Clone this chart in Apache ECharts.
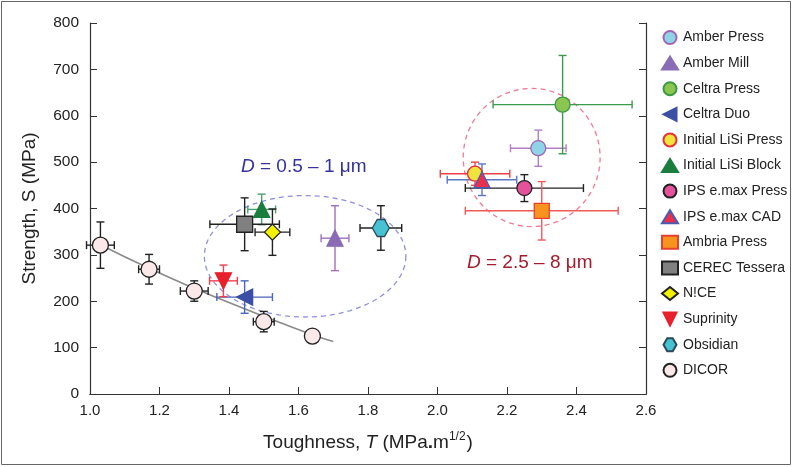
<!DOCTYPE html>
<html>
<head>
    <meta charset="utf-8">
</head>
<body style="margin:0">

<div id="main" style="width: 794px;height:467px;"></div>
<script src="https://cdn.jsdelivr.net/npm/echarts@6/dist/echarts.min.js"></script>
<script type="text/javascript">
    // each row: [toughness, strength, toughness error, strength error]
    var amberPress = [[2.29, 530, 0.08, 39]];
    var amberMill = [[1.705, 336, 0.04, 70]];
    var celtraPress = [[2.36, 624, 0.20, 106]];
    var celtraDuo = [[1.445, 209, 0.08, 35]];
    var lisiPress = [[2.108, 475, 0.10, 25]];
    var lisiBlock = [[1.494, 398, 0.04, 33]];
    var emaxPress = [[2.25, 444, 0.17, 29]];
    var emaxCad = [[2.128, 462, 0.10, 34]];
    var ambriaPress = [[2.30, 395, 0.22, 63]];
    var cerecTessera = [[1.445, 366, 0.10, 57]];
    var nice = [[1.525, 349, 0.05, 50]];
    var suprinity = [[1.384, 244, 0.04, 34]];
    var obsidian = [[1.837, 358, 0.06, 48]];
    var dicor = [[1.03, 321, 0.04, 50], [1.17, 269, 0.03, 32], [1.30, 222, 0.04, 22], [1.50, 156, 0.03, 22], [1.64, 125, 0.01, 14]];
    // trend line through the DICOR points
    var dicorFit = [[1.03, 322], [1.17, 271], [1.30, 228], [1.45, 182], [1.55, 153], [1.64, 128], [1.70, 113]];
    // dashed grain size ellipses: [centre T, centre S, half width, half height]
    var fineEllipse = [[1.619, 297, 0.29, 131]];
    var coarseEllipse = [[2.271, 510, 0.197, 149]];

    var xTicks = [1.0, 1.2, 1.4, 1.6, 1.8, 2.0, 2.2, 2.4, 2.6];
    var yTicks = [0, 100, 200, 300, 400, 500, 600, 700, 800];

    var font = 'Liberation Sans, Arial, sans-serif';
    var hexagon = 'path://M0,5 L2.9,0 L7.1,0 L10,5 L7.1,10 L2.9,10 Z';
    var leftTri = 'path://M0,5 L10,0 L10,10 Z';
    var downTri = 'path://M0,0 L10,0 L5,10 Z';

    var materials = [
        {name: 'Amber Press', data: amberPress, symbol: 'circle', rot: 0, size: 15, fill: '#8fd4e6', edge: '#a064b4', bar: '#b47ec4'},
        {name: 'Amber Mill', data: amberMill, symbol: 'triangle', rot: 0, size: 16, fill: '#8a6cb6', edge: '#8a6cb6', bar: '#a070b8'},
        {name: 'Celtra Press', data: celtraPress, symbol: 'circle', rot: 0, size: 15, fill: '#8cc652', edge: '#3c9a40', bar: '#3a9a4e'},
        {name: 'Celtra Duo', data: celtraDuo, symbol: 'triangle', rot: 90, icon: leftTri, size: 16, fill: '#3c4fa6', edge: '#3c4fa6', bar: '#4a66b8'},
        {name: 'Initial LiSi Press', data: lisiPress, symbol: 'circle', rot: 0, size: 15, fill: '#f2e23c', edge: '#e8303a', bar: '#ec4048'},
        {name: 'Initial LiSi Block', data: lisiBlock, symbol: 'triangle', rot: 0, size: 16, fill: '#1a7e3e', edge: '#1a7e3e', bar: '#4aa070'},
        {name: 'IPS e.max Press', data: emaxPress, symbol: 'circle', rot: 0, size: 15, fill: '#e3529a', edge: '#222222', bar: '#222222'},
        {name: 'IPS e.max CAD', data: emaxCad, symbol: 'triangle', rot: 0, size: 16, fill: '#e8304e', edge: '#4a5cb0', bar: '#5a78c0'},
        {name: 'Ambria Press', data: ambriaPress, symbol: 'rect', rot: 0, size: 15, fill: '#f7941d', edge: '#e84030', bar: '#f05a5a'},
        {name: 'CEREC Tessera', data: cerecTessera, symbol: 'rect', rot: 0, size: 16, fill: '#808080', edge: '#222222', bar: '#222222'},
        {name: 'N!CE', data: nice, symbol: 'diamond', rot: 0, size: 16, fill: '#f2f200', edge: '#222222', bar: '#222222'},
        {name: 'Suprinity', data: suprinity, symbol: 'triangle', rot: 180, icon: downTri, size: 16, fill: '#e8202c', edge: '#e8202c', bar: '#f04050'},
        {name: 'Obsidian', data: obsidian, symbol: hexagon, rot: 0, size: 17, fill: '#46c2d2', edge: '#2a4a5a', bar: '#222222'},
        {name: 'DICOR', data: dicor, symbol: 'circle', rot: 0, size: 16, fill: '#fbe8e8', edge: '#222222', bar: '#222222'}
    ];

    function errorBars(params, api) {
        var x = api.value(0), y = api.value(1), dx = api.value(2), dy = api.value(3);
        var l = api.coord([x - dx, y]), r = api.coord([x + dx, y]);
        var t = api.coord([x, y + dy]), b = api.coord([x, y - dy]);
        var cap = 4;
        var st = {stroke: api.visual('color'), lineWidth: 1.4};
        return {
            type: 'group',
            children: [
                {type: 'line', shape: {x1: l[0], y1: l[1], x2: r[0], y2: r[1]}, style: st},
                {type: 'line', shape: {x1: l[0], y1: l[1] - cap, x2: l[0], y2: l[1] + cap}, style: st},
                {type: 'line', shape: {x1: r[0], y1: r[1] - cap, x2: r[0], y2: r[1] + cap}, style: st},
                {type: 'line', shape: {x1: t[0], y1: t[1], x2: b[0], y2: b[1]}, style: st},
                {type: 'line', shape: {x1: t[0] - cap, y1: t[1], x2: t[0] + cap, y2: t[1]}, style: st},
                {type: 'line', shape: {x1: b[0] - cap, y1: b[1], x2: b[0] + cap, y2: b[1]}, style: st}
            ]
        };
    }

    function ellipse(params, api) {
        var c = api.coord([api.value(0), api.value(1)]);
        var sz = api.size([api.value(2), api.value(3)]);
        var pts = [];
        for (var i = 0; i <= 96; i++) {
            var a = i / 96 * Math.PI * 2;
            pts.push([c[0] + sz[0] * Math.cos(a), c[1] + sz[1] * Math.sin(a)]);
        }
        return {
            type: 'polyline',
            shape: {points: pts},
            style: {stroke: api.visual('color'), fill: 'none', lineWidth: 1.3, lineDash: [5, 4]}
        };
    }

    var series = [];
    series.push({
        name: 'fine', type: 'custom', renderItem: ellipse, data: fineEllipse,
        itemStyle: {color: '#8f90dc'}, silent: true, z: 1
    });
    series.push({
        name: 'coarse', type: 'custom', renderItem: ellipse, data: coarseEllipse,
        itemStyle: {color: '#f07a92'}, silent: true, z: 1
    });
    series.push({
        name: 'DICOR fit', type: 'line', data: dicorFit, smooth: true, showSymbol: false,
        lineStyle: {color: '#8a8a8a', width: 1.6}, silent: true, z: 2
    });
    materials.forEach(function (m) {
        series.push({
            name: m.name + ' error', type: 'custom', renderItem: errorBars, data: m.data,
            itemStyle: {color: m.bar}, silent: true, z: 3
        });
    });
    materials.forEach(function (m) {
        series.push({
            name: m.name, type: 'scatter', data: m.data.map(function (d) { return [d[0], d[1]]; }),
            symbol: m.symbol, symbolSize: m.size, symbolRotate: m.rot,
            itemStyle: {color: m.fill, borderColor: m.edge, borderWidth: 1.3, opacity: 1}, z: 5
        });
    });

    var option = {
        animation: false,
        textStyle: {fontFamily: font},
        grid: {left: 90, right: 148, top: 23, bottom: 73},
        legend: {
            orient: 'vertical', left: 656, top: 25, itemGap: 10.6,
            itemWidth: 16, itemHeight: 13,
            data: materials.map(function (m) {
                return m.icon ? {name: m.name, icon: m.icon} : {name: m.name};
            }),
            textStyle: {fontFamily: font, fontSize: 14, color: '#222'}
        },
        xAxis: [{
            type: 'value', min: xTicks[0], max: xTicks[xTicks.length - 1], interval: 0.2,
            axisLine: {lineStyle: {color: '#333', width: 1.2}},
            axisTick: {inside: true, length: 7, lineStyle: {color: '#333'}},
            axisLabel: {fontSize: 15, color: '#222', margin: 9, formatter: function (v) { return v.toFixed(1); }},
            splitLine: {show: false},
            name: '{a|Toughness, }{i|T}{a| (MPa}{b|.}{a|m}{s|1/2}{a|)}',
            nameLocation: 'middle', nameGap: 37,
            nameTextStyle: {
                rich: {
                    a: {fontSize: 19, color: '#222', fontFamily: font, lineHeight: 24},
                    i: {fontSize: 19, color: '#222', fontFamily: font, fontStyle: 'italic', lineHeight: 24},
                    b: {fontSize: 19, color: '#222', fontFamily: font, fontWeight: 'bold', lineHeight: 24},
                    s: {fontSize: 12, color: '#222', fontFamily: font, verticalAlign: 'top', lineHeight: 24, padding: [0, 1, 0, 0]}
                }
            }
        }, {
            type: 'value', position: 'top', min: xTicks[0], max: xTicks[xTicks.length - 1], interval: 0.2,
            axisLine: {lineStyle: {color: '#333', width: 1.2}},
            axisTick: {show: false}, axisLabel: {show: false}, splitLine: {show: false}
        }],
        yAxis: [{
            type: 'value', min: yTicks[0], max: yTicks[yTicks.length - 1], interval: 100,
            axisLine: {show: true, lineStyle: {color: '#333', width: 1.2}},
            axisTick: {show: true, inside: true, length: 7, lineStyle: {color: '#333'}},
            axisLabel: {fontSize: 15.5, color: '#222', margin: 11},
            splitLine: {show: false},
            name: 'Strength, S (MPa)', nameLocation: 'middle', nameGap: 51,
            nameTextStyle: {fontSize: 19, color: '#222'}
        }, {
            type: 'value', position: 'right', min: yTicks[0], max: yTicks[yTicks.length - 1], interval: 100,
            axisLine: {show: true, lineStyle: {color: '#333', width: 1.2}},
            axisTick: {show: true, inside: true, length: 7, lineStyle: {color: '#333'}},
            axisLabel: {show: false}, splitLine: {show: false}
        }],
        graphic: [
            {type: 'rect', shape: {x: 1.5, y: 1.5, width: 789, height: 463}, style: {fill: 'none', stroke: '#666', lineWidth: 1}, silent: true},
            {
                type: 'text', left: 241, top: 157,
                style: {
                    text: '{i|D}{a| = 0.5 – 1 μm}',
                    rich: {
                        i: {fontSize: 19, fontStyle: 'italic', fill: '#33339a', fontFamily: font},
                        a: {fontSize: 19, fill: '#33339a', fontFamily: font}
                    }
                }
            },
            {
                type: 'text', left: 467, top: 253,
                style: {
                    text: '{i|D}{a| = 2.5 – 8 μm}',
                    rich: {
                        i: {fontSize: 19, fontStyle: 'italic', fill: '#a31c2e', fontFamily: font},
                        a: {fontSize: 19, fill: '#a31c2e', fontFamily: font}
                    }
                }
            }
        ],
        series: series
    };

    var myChart = echarts.init(document.getElementById('main'));
    myChart.setOption(option);
</script>
</body>
</html>
